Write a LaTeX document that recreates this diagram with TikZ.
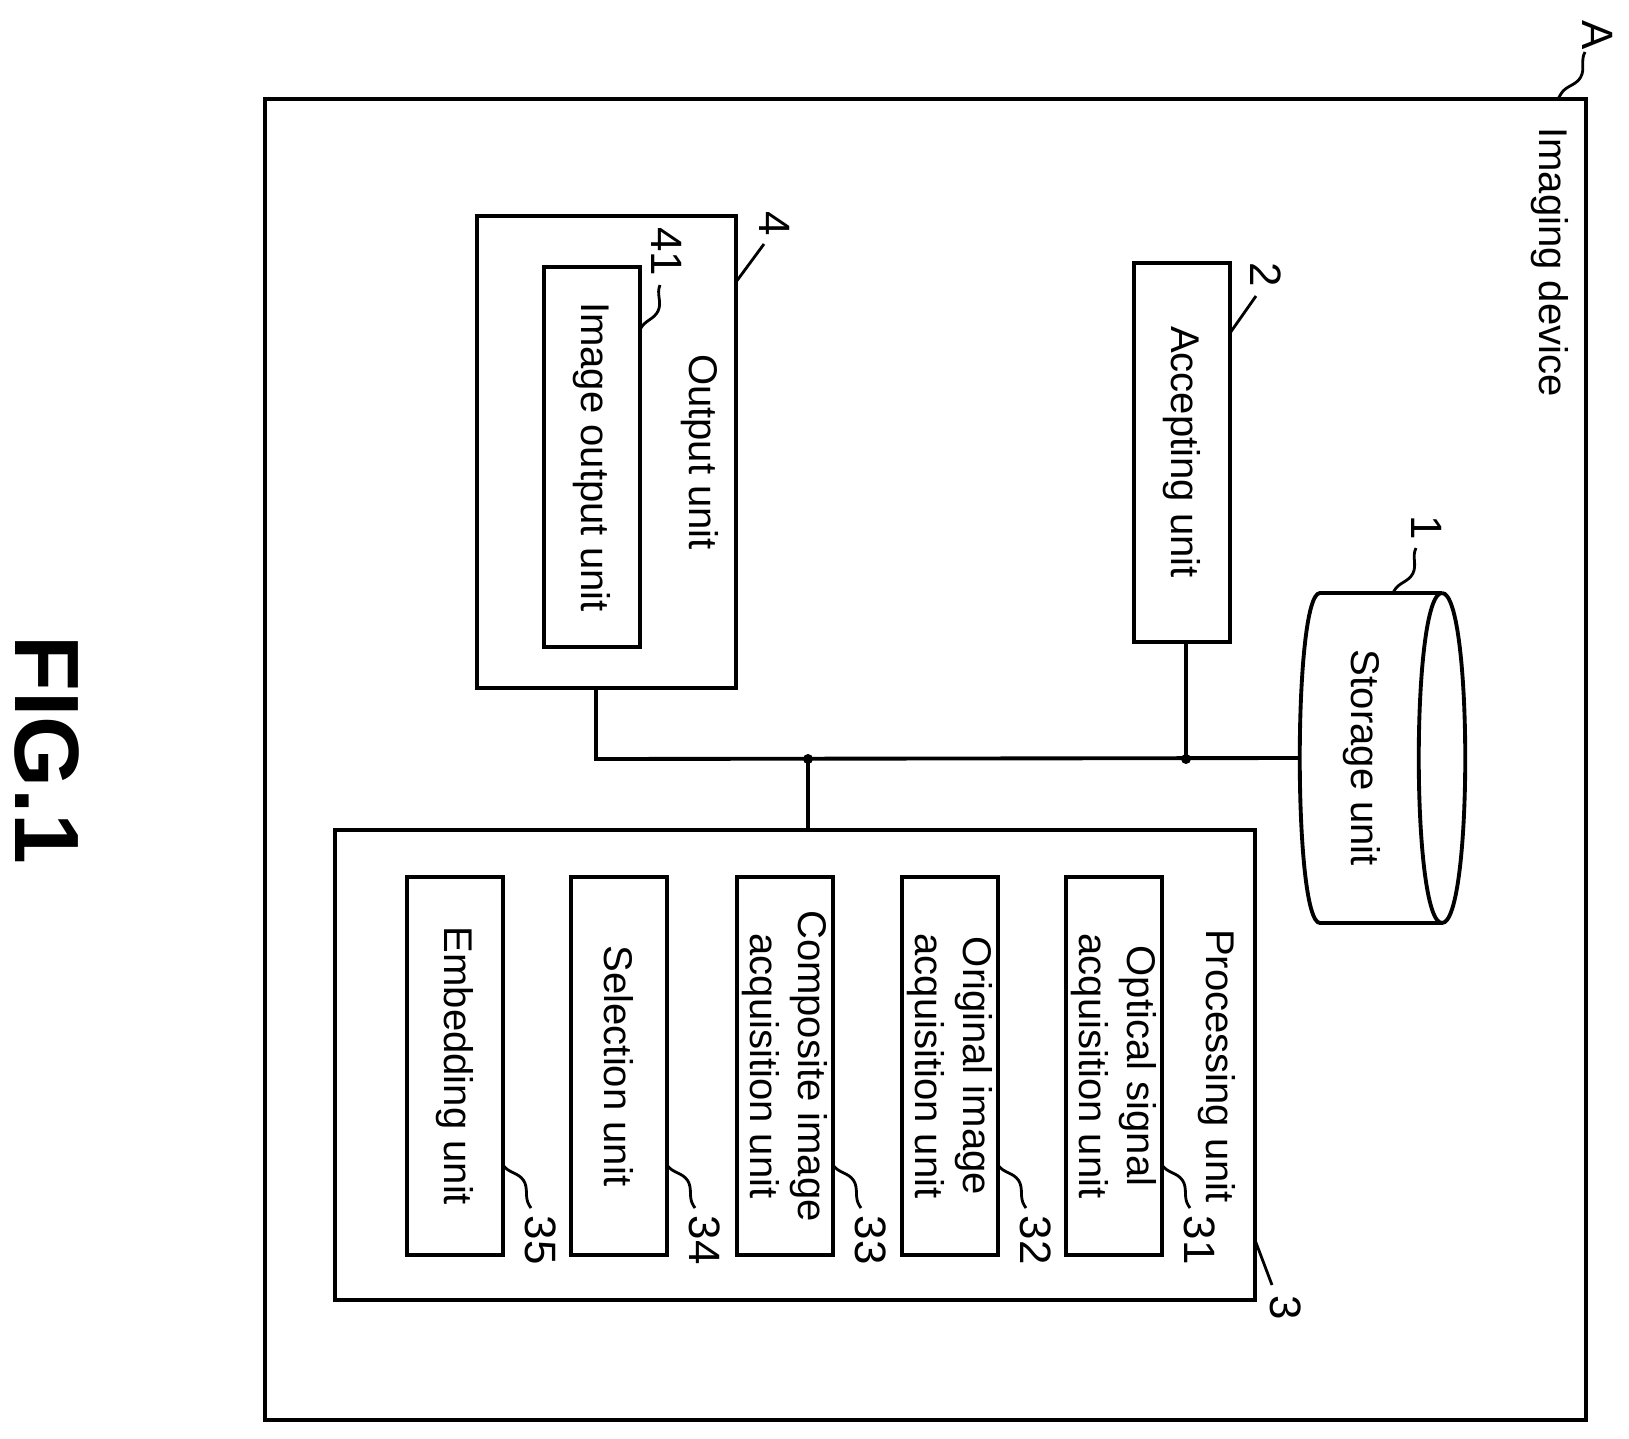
\documentclass[tikz,border=0pt]{standalone}
\usepackage{fontspec}
\setmainfont{Liberation Sans}
\usetikzlibrary{decorations.pathmorphing}
\begin{document}
\begin{tikzpicture}[x=0.1mm,y=-0.1mm,
  box/.style={draw,line width=1.1pt},
  lbl/.style={rotate=-90,font=\fontsize{11.4}{13.5}\selectfont,align=center,inner sep=0},
  num/.style={rotate=-90,font=\fontsize{12.5}{14}\selectfont,inner sep=0},
  sq/.style={line width=0.8pt,decorate,decoration={snake,amplitude=2.5,segment length=22}},
  ln/.style={line width=1.1pt}]
\useasboundingbox (0,0) rectangle (1629,1439);
% outer
\draw[box] (265,99) rectangle (1586,1420);
\node[lbl] at (1550,262) {Imaging device};
\node[num] (A) at (1598,35) {A};
\coordinate (Ac) at (1558,99);
\draw[sq] (1585,52) -- (Ac);
% storage
\draw[box] (1442,593) -- (1320,593) .. controls (1293,593) and (1293,923) .. (1320,923) -- (1442,923);
\draw[box] (1442,593) .. controls (1473,593) and (1473,923) .. (1442,923) .. controls (1411,923) and (1411,593) .. (1442,593);
\coordinate (st) at (1300,758);
\node[lbl] at (1362,758) {Storage unit};
\node[num] (n1) at (1427,528) {1};
\draw[sq] (1416,548) -- (1393,593);
% accepting
\draw[box] (1134,263) rectangle (1230,642);
\coordinate (accb) at (1186,642);
\node[lbl] at (1182,452) {Accepting unit};
\node[num] (n2) at (1266,275) {2};
\draw[sq] (1256,296) -- (1230,333);
% output
\draw[box] (477,216) rectangle (736,688);
\node[lbl] at (700,452) {Output unit};
\node[num] (n4) at (775,224) {4};
\draw[sq] (764,244) -- (736,282);
\draw[box] (544,267) rectangle (640,647);
\node[lbl] at (592,457) {Image output unit};
\node[num] (n41) at (667,252) {41};
\draw[sq] (660,285) -- (640,330);
\coordinate (outb) at (596,688);
% processing
\draw[box] (335,830) rectangle (1255,1300);
\node[lbl] at (1217,1066) {Processing unit};
\node[num] (n3) at (1286,1308) {3};
\draw[sq] (1272,1285) -- (1255,1240);
\coordinate (prt) at (808,830);
\foreach \x/\t/\n in {1066/{Optical signal\\acquisition unit}/31,
                      902/{Original image\\acquisition unit}/32,
                      737/{Composite image\\acquisition unit}/33,
                      571/{Selection unit}/34,
                      407/{Embedding unit}/35}{
  \draw[box] (\x,877) rectangle (\x+96,1255);
  \node[lbl] at (\x+48,1066) {\t};
  \node[num] at (\x+134,1240) {\n};
  \draw[sq] (\x+96,1165) -- (\x+124,1208);
}
% bus
\coordinate (j1) at (1186,759);
\coordinate (j2) at (808,759);
\coordinate (bl) at (596,759);
\draw[ln] (outb) -- (bl) -- (st);
\draw[ln] (accb) -- (j1);
\draw[ln] (prt) -- (j2);
\fill (j1) circle (5);
\fill (j2) circle (5);
% fig
\node[rotate=-90,font=\fontsize{26}{28}\selectfont\bfseries] at (47,750) {FIG.1};
\end{tikzpicture}
\end{document}
